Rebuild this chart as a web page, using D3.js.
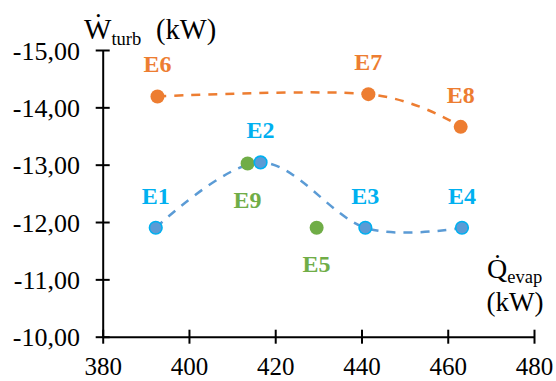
<!DOCTYPE html>
<html><head><meta charset="utf-8">
<script src="https://cdn.jsdelivr.net/npm/d3@7"></script>
<style>body{margin:0;background:#fff}svg{display:block}</style>
</head><body><svg id="c" width="556" height="381"></svg>
<script>
// ---- data ----
const xTicks = [380, 400, 420, 440, 460, 480];
const yTicks = [-10, -11, -12, -13, -14, -15];
const blueLabels = ["E1", "E2", "E3", "E4"];
const blueX = [392.3, 416.6, 440.9, 463.3];
const blueY = [-11.90, -13.04, -11.90, -11.90];
const orangeLabels = ["E6", "E7", "E8"];
const orangeX = [392.7, 441.6, 463.0];
const orangeY = [-14.19, -14.23, -13.66];
const greenLabels = ["E9", "E5"];
const greenX = [413.6, 429.6];
const greenY = [-13.02, -11.90];

const FONT = "'Liberation Serif'";
const svg = d3.select("#c");
const x = d3.scaleLinear().domain([380, 480]).range([102.7, 534]);
const y = d3.scaleLinear().domain([-10, -15]).range([336.7, 50]);

// axes
const fmt = v => d3.format(".2f")(v).replace("−", "-").replace(".", ",");
const gx = svg.append("g").attr("transform", `translate(0,${y(-10)})`)
  .call(d3.axisBottom(x).tickValues(xTicks).tickSizeOuter(0).tickSizeInner(7).tickPadding(0));
const gy = svg.append("g").attr("transform", `translate(${x(380)},0)`)
  .call(d3.axisLeft(y).tickValues(yTicks).tickSizeOuter(0).tickSizeInner(7).tickFormat(fmt));
[gx, gy].forEach(g => {
  g.attr("font-family", null).attr("font-size", null);
  g.select(".domain").attr("stroke", "#000").attr("stroke-width", 2);
  g.selectAll(".tick line").attr("stroke", "#000").attr("stroke-width", 2);
  g.selectAll("text").style("font-family", FONT).attr("fill", "#000");
});
gy.selectAll("text").style("font-size", "26px");
gx.selectAll("text").style("font-size", "25px");
gx.selectAll(".tick line").attr("y1", -7).attr("y2", 7);
gx.selectAll(".tick text").attr("y", 38).attr("dy", null);
gy.selectAll(".tick line").attr("x1", -7).attr("x2", 7);
gy.selectAll(".tick text").attr("x", -22.7).attr("dy", "0.35em");

const lineBlue = "#5B9BD5", cyan = "#00B0F0", orange = "#ED7D31", green = "#70AD47";
const toPts = (xs, ys, ls) => xs.map((v, i) => [v, ys[i], ls[i]]);
const ptsO = toPts(orangeX, orangeY, orangeLabels);
const ptsB = toPts(blueX, blueY, blueLabels);
const ptsG = toPts(greenX, greenY, greenLabels);

function curve(pts, color) {
  svg.append("path").datum(pts)
    .attr("d", d3.line().x(d => x(d[0])).y(d => y(d[1])).curve(d3.curveCardinal.tension(0)))
    .attr("fill", "none").attr("stroke", color).attr("stroke-width", 2.5)
    .attr("stroke-dasharray", "9,8");
}
curve(ptsO, orange);
curve(ptsB, lineBlue);

function dots(pts, fill, stroke) {
  svg.append("g").selectAll("circle").data(pts).join("circle")
    .attr("cx", d => x(d[0])).attr("cy", d => y(d[1]))
    .attr("r", stroke ? 6.3 : 7)
    .attr("fill", fill)
    .attr("stroke", stroke || "none").attr("stroke-width", stroke ? 1.6 : 0);
}
dots(ptsO, orange);
dots(ptsG, green);
dots(ptsB, lineBlue, cyan);

function labels(pts, color, off) {
  svg.append("g").selectAll("text").data(pts).join("text")
    .attr("x", d => x(d[0])).attr("y", d => y(d[1]) + off)
    .attr("text-anchor", "middle")
    .style("font-family", FONT).style("font-weight", "bold").style("font-size", "24px")
    .attr("fill", color)
    .text(d => d[2]);
}
labels(ptsO, orange, -24);
labels(ptsB, cyan, -24);
labels(ptsG, green, 44);

// axis titles
const t1 = svg.append("text").attr("fill", "#000").style("font-family", FONT);
t1.append("tspan").attr("x", 84).attr("y", 39).style("font-size", "29px").text("W\u0307");
t1.append("tspan").attr("dy", 6).style("font-size", "18.5px").text("turb");
svg.append("text").style("font-family", FONT).style("font-size", "28.5px").attr("x", 156).attr("y", 39).text("(kW)");

const t2 = svg.append("text").attr("fill", "#000").style("font-family", FONT);
t2.append("tspan").attr("x", 487).attr("y", 278).style("font-size", "28px").text("Q\u0307");
t2.append("tspan").attr("dy", 5).style("font-size", "18.5px").text("evap");
svg.append("text").style("font-family", FONT).style("font-size", "27px").attr("x", 486.5).attr("y", 311).text("(kW)");
</script></body></html>
